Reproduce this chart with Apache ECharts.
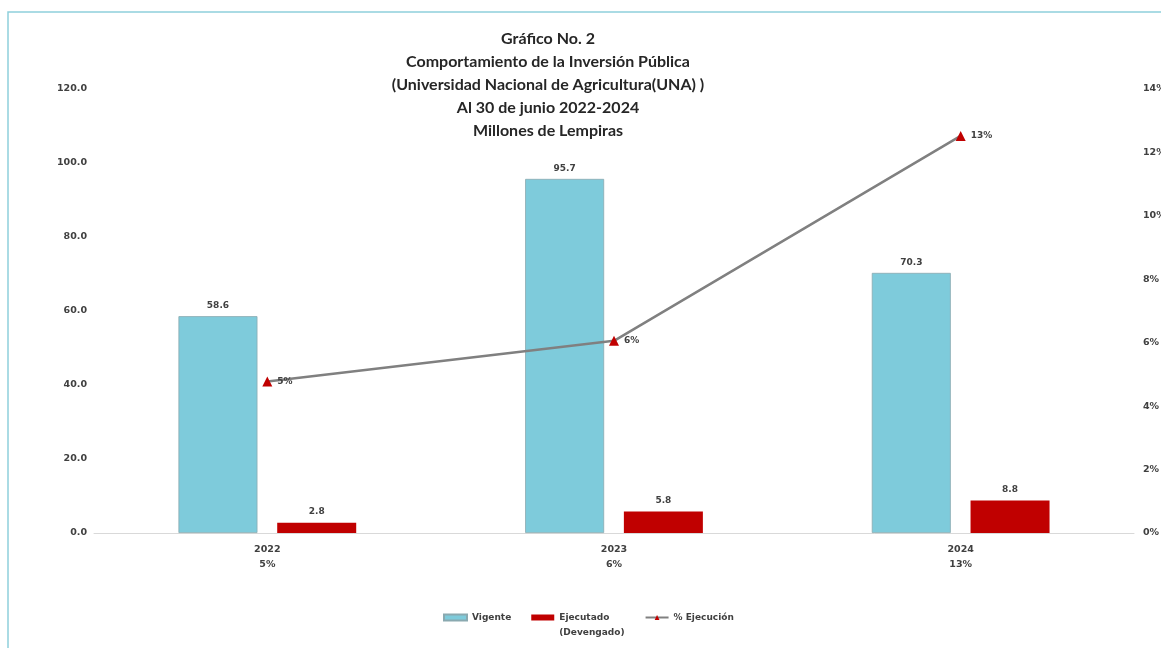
<!DOCTYPE html>
<html><head><meta charset="utf-8">
<script src="https://cdn.jsdelivr.net/npm/echarts@6/dist/echarts.min.js"></script>
<style>html,body{margin:0;padding:0;background:#fff}#c{width:1161px;height:648px}</style>
</head><body><div id="c"></div>
<script>
const categories = ['2022', '2023', '2024'];
const pctLabels = ['5%', '6%', '13%'];
const vigente = [58.6, 95.7, 70.3];
const ejecutado = [2.8, 5.8, 8.8];
const pctEjecucion = [4.78, 6.06, 12.52];
const leftTicks = [0, 20, 40, 60, 80, 100, 120];
const titleLines = ['Gráfico No. 2', 'Comportamiento de la Inversión Pública', '(Universidad Nacional de Agricultura(UNA) )', 'Al 30 de junio 2022-2024', 'Millones de Lempiras'];

const TFONT = 'Lato, "Open Sans", sans-serif';
const SFONT = '"DejaVu Sans", sans-serif';
const LBL = { color: '#404040', fontWeight: 'bold', fontFamily: SFONT };
const chart = echarts.init(document.getElementById('c'));
chart.setOption({
  animation: false,
  textStyle: { fontFamily: SFONT },
  title: {
    text: titleLines.join('\n'),
    left: 548, top: 27, padding: 0, textAlign: 'center',
    textStyle: { fontSize: 16, fontWeight: 'bold', color: '#262626', lineHeight: 23, fontFamily: TFONT }
  },
  graphic: [{
    type: 'rect', shape: { x: 8, y: 12, width: 1200, height: 700 },
    style: { fill: 'none', stroke: '#8fd0dc', lineWidth: 1.5 }, silent: true
  }],
  grid: { left: 94, right: 27, top: 89, bottom: 115, containLabel: false, outerBoundsMode: 'none' },
  legend: {
    top: 595, left: 443, itemGap: 20, itemWidth: 23, itemHeight: 6, padding: 0,
    textStyle: Object.assign({ fontSize: 9, lineHeight: 15 }, LBL),
    formatter: name => name.indexOf('\n') >= 0 ? ' \n' + name : name,
    data: [
      { name: 'Vigente', icon: 'rect' },
      { name: 'Ejecutado\n(Devengado)', icon: 'rect' },
      { name: '% Ejecución' }
    ]
  },
  xAxis: {
    type: 'category', data: categories,
    axisLine: { lineStyle: { color: '#d9d9d9' } },
    axisTick: { show: false },
    axisLabel: Object.assign({ fontSize: 9.5, lineHeight: 15, margin: 9,
      formatter: (v, i) => v + '\n' + pctLabels[i] }, LBL)
  },
  yAxis: [{
    type: 'value', min: 0, max: 120, interval: 20,
    axisLine: { show: false }, axisTick: { show: false }, splitLine: { show: false },
    axisLabel: Object.assign({ fontSize: 9.5, margin: 7, formatter: v => v.toFixed(1) }, LBL)
  }, {
    type: 'value', min: 0, max: 14, interval: 2,
    axisLine: { show: false }, axisTick: { show: false }, splitLine: { show: false },
    axisLabel: Object.assign({ fontSize: 9.5, margin: 9, formatter: v => v + '%' }, LBL)
  }],
  series: [{
    name: 'Vigente', type: 'bar', data: vigente,
    barWidth: 79, barGap: '25%',
    itemStyle: { color: '#7ecbdb', borderColor: '#8aa9b0', borderWidth: 0.8 },
    label: Object.assign({ show: true, position: 'top', distance: 6, fontSize: 9, formatter: p => p.value.toFixed(1) }, LBL)
  }, {
    name: 'Ejecutado\n(Devengado)', type: 'bar', data: ejecutado,
    barWidth: 79,
    itemStyle: { color: '#c00000' },
    label: Object.assign({ show: true, position: 'top', distance: 6, fontSize: 9, formatter: p => p.value.toFixed(1) }, LBL)
  }, {
    name: '% Ejecución', type: 'line', yAxisIndex: 1, data: pctEjecucion,
    symbol: 'triangle', symbolSize: 10,
    lineStyle: { color: '#808080', width: 2.5 },
    itemStyle: { color: '#c00000' },
    label: Object.assign({ show: true, position: 'right', distance: 5, fontSize: 9, formatter: (p) => pctLabels[p.dataIndex] }, LBL)
  }]
});
</script></body></html>
